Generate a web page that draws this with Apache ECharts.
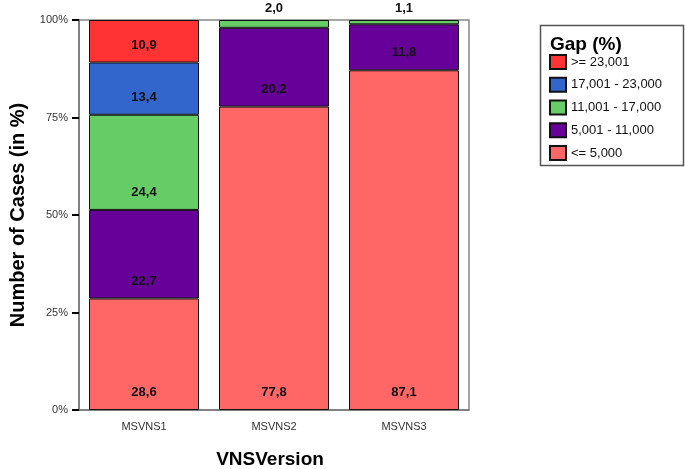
<!DOCTYPE html>
<html>
<head>
<meta charset="utf-8">
<script src="https://cdn.jsdelivr.net/npm/echarts@6/dist/echarts.min.js"></script>
<style>html,body{margin:0;padding:0;background:#fff;overflow:hidden}#c{width:685px;height:469px}</style>
</head>
<body>
<div id="c"></div>
<script>
var categories = ['MSVNS1', 'MSVNS2', 'MSVNS3'];
var seriesNames = ['<= 5,000', '5,001 - 11,000', '11,001 - 17,000', '17,001 - 23,000', '>= 23,001'];
var valsLe5000 = [28.6, 77.8, 87.1];
var vals5001to11000 = [22.7, 20.2, 11.8];
var vals11001to17000 = [24.4, 2.0, 1.1];
var vals17001to23000 = [13.4, null, null];
var valsGe23001 = [10.9, null, null];
var yTicks = [0, 25, 50, 75, 100];
var colors = ['#ff6666', '#660099', '#66cc66', '#3366cc', '#ff3333'];

var allVals = [valsLe5000, vals5001to11000, vals11001to17000, vals17001to23000, valsGe23001];
var font = 'Liberation Sans, Arial, Helvetica, sans-serif';

function fmt(p) {
  if (p.value == null) return '';
  return Number(p.value).toFixed(1).replace('.', ',');
}

var series = allVals.map(function (vals, i) {
  return {
    name: seriesNames[i],
    type: 'bar',
    stack: 'total',
    barWidth: 110,
    itemStyle: { color: colors[i], borderColor: '#111', borderWidth: 1 },
    label: {
      show: true, position: 'insideBottom', distance: 11,
      fontFamily: font, fontWeight: 'bold', fontSize: 13, color: '#111',
      formatter: fmt
    },
    emphasis: { disabled: true },
    data: vals.map(function (v) {
      if (v != null && v < 5) {
        return { value: v, label: { position: 'top', distance: 5 } };
      }
      return v;
    })
  };
});

var chart = echarts.init(document.getElementById('c'), null, { renderer: 'canvas', width: 685, height: 469 });
chart.setOption({
  animation: false,
  backgroundColor: '#fff',
  grid: { left: 79, right: 216, top: 20, bottom: 59, outerBoundsMode: 'none', containLabel: false, show: true, borderColor: '#888', borderWidth: 1.5, backgroundColor: 'transparent' },
  xAxis: {
    type: 'category', data: categories,
    name: 'VNSVersion', nameLocation: 'middle', nameGap: 40,
    nameTextStyle: { fontFamily: font, fontWeight: 'bold', fontSize: 19, color: '#000', padding: [0, 8, 0, 0] },
    axisLine: { lineStyle: { color: '#777', width: 1.5 } },
    axisTick: { alignWithLabel: true, length: 6, lineStyle: { color: '#000', width: 2 } },
    axisLabel: { fontFamily: font, fontSize: 11, color: '#333', margin: 11 }
  },
  yAxis: {
    type: 'value', min: yTicks[0], max: yTicks[yTicks.length - 1], interval: 25,
    name: 'Number of Cases (in %)', nameLocation: 'middle', nameGap: 51,
    nameTextStyle: { fontFamily: font, fontWeight: 'bold', fontSize: 20, color: '#000' },
    axisLine: { show: true, lineStyle: { color: '#777', width: 1.5 } },
    axisTick: { show: true, length: 7, lineStyle: { color: '#000', width: 2 } },
    splitLine: { show: false },
    axisLabel: { fontFamily: font, fontSize: 11, color: '#333', margin: 11, formatter: '{value}%' }
  },
  legend: {
    orient: 'vertical', left: 549, top: 54, padding: 0,
    icon: 'rect',
    itemWidth: 16, itemHeight: 14, itemGap: 6.75,
    data: seriesNames.slice().reverse(),
    textStyle: { fontFamily: font, fontSize: 13, color: '#111' },
    selectedMode: false
  },
  graphic: [
    { type: 'rect', shape: { x: 540.5, y: 25.5, width: 143, height: 140 }, style: { fill: 'none', stroke: '#555', lineWidth: 1.5 }, z: -1 },
    { type: 'text', left: 550, top: 35, style: { text: 'Gap (%)', fontFamily: font, fontWeight: 'bold', fontSize: 19, fill: '#000' } }
  ],
  series: series
});
</script>
</body>
</html>
